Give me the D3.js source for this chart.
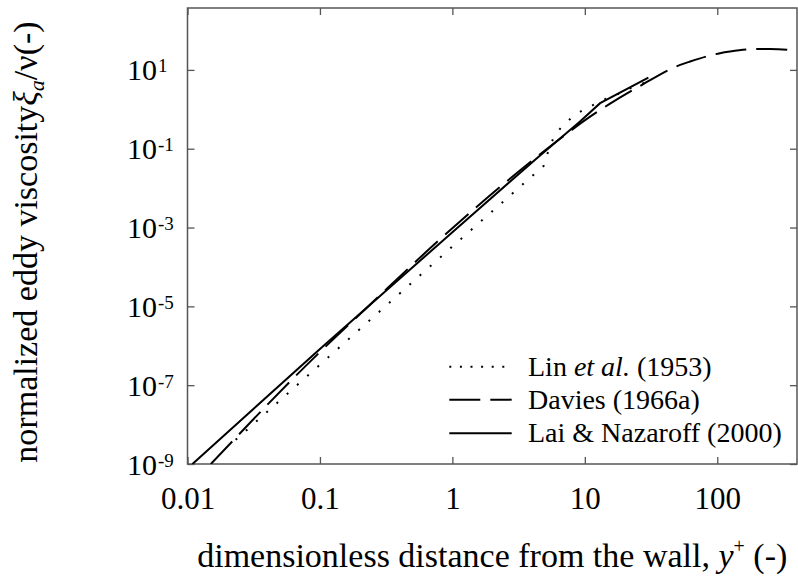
<!DOCTYPE html>
<html>
<head>
<meta charset="utf-8">
<script src="https://cdn.jsdelivr.net/npm/d3@7"></script>
<style>
  body { margin: 0; background: #fff; }
  svg { display: block; }
</style>
</head>
<body>
<script>
const width = 798;
const height = 584;
const serif = "Liberation Serif";

// Lin et al. (1953), dotted
const linX = [0.0231, 0.1, 1, 4.9, 5.16, 5.86, 6.7, 8.0, 9.55, 11.5, 13.7, 16.4, 24, 29];
const linY = [4.1e-9, 3.3e-7, 3.3e-4, 0.037, 0.067, 0.21, 0.36, 0.63, 0.93, 1.27, 1.73, 2.15, 3.9, 4.85];

// Davies (1966a), dashed
const daviesX = [0.015, 0.0946, 0.231, 0.783, 3.15, 6.32, 10.96, 15.4, 26.2, 52.5, 62.4, 105, 125, 211, 251, 408];
const daviesY = [1e-9, 5.8e-7, 9.9e-6, 4.6e-4, 0.026, 0.167, 0.65, 1.37, 3.93, 13.4, 16.3, 26.5, 29.1, 34.1, 34.1, 30.9];

// Lai & Nazaroff (2000), solid
const laiX = [0.0109, 0.1, 1, 4.3, 9.2, 13.05, 30.2];
const laiY = [1e-9, 8.3e-7, 7.6e-4, 0.056, 0.49, 1.43, 6.4];

const xTicks = [0.01, 0.1, 1, 10, 100];
const xTickLabels = ["0.01", "0.1", "1", "10", "100"];
const yTickExps = [-9, -7, -5, -3, -1, 1];
const legendLabels = ["Lin", "Davies (1966a)", "Lai & Nazaroff (2000)"];

const x0 = 187.5, x1 = 797, yTop = 8, yBottom = 464;

const x = d3.scaleLog().domain([0.01, 400]).range([x0, x1]);
const y = d3.scaleLog().domain([1e-9, 372]).range([yBottom, yTop]);

const svg = d3.select("body")
  .append("svg")
  .attr("width", width)
  .attr("height", height)
  .attr("font-family", serif);

svg.append("defs").append("clipPath")
  .attr("id", "plot-clip")
  .append("rect")
  .attr("x", x0).attr("y", yTop)
  .attr("width", x1 - x0).attr("height", yBottom - yTop);

const axisColor = "#555";

// bottom axis with labels, ticks pointing inward
const xAxis = svg.append("g")
  .attr("transform", `translate(0,${yBottom})`)
  .call(d3.axisBottom(x).tickValues(xTicks).tickSize(-7).tickPadding(23)
    .tickFormat((d, i) => xTickLabels[i]));

// top axis, ticks only
const xAxisTop = svg.append("g")
  .attr("transform", `translate(0,${yTop})`)
  .call(d3.axisTop(x).tickValues(xTicks).tickSize(-7).tickFormat(""));

const yAxis = svg.append("g")
  .attr("transform", `translate(${x0},0)`)
  .call(d3.axisLeft(y).tickValues(yTickExps.map(e => Math.pow(10, e))).tickSize(-7).tickFormat(""));

const yAxisRight = svg.append("g")
  .attr("transform", `translate(${x1},0)`)
  .call(d3.axisRight(y).tickValues(yTickExps.map(e => Math.pow(10, e))).tickSize(-7).tickFormat(""));

[xAxis, xAxisTop, yAxis, yAxisRight].forEach(g => {
  g.attr("font-family", serif);
  g.select(".domain").remove();
  g.selectAll(".tick line").attr("stroke", axisColor).attr("stroke-width", 1.3);
});

xAxis.selectAll(".tick text")
  .attr("font-size", 31)
  .attr("font-family", serif)
  .attr("fill", "#000");

// y tick labels: 10 with superscript exponent
const yLabels = svg.append("g");
yLabels.selectAll("text.base")
  .data(yTickExps)
  .join("text")
  .attr("class", "base")
  .attr("x", 157)
  .attr("y", d => y(Math.pow(10, d)) + 10.5)
  .attr("text-anchor", "end")
  .attr("font-family", serif)
  .attr("font-size", 30)
  .text("10");
yLabels.selectAll("text.exp")
  .data(yTickExps)
  .join("text")
  .attr("class", "exp")
  .attr("x", 158)
  .attr("y", d => y(Math.pow(10, d)) + 2.5)
  .attr("font-family", serif)
  .attr("font-size", 19)
  .text(d => String(d));

// frame
svg.append("rect")
  .attr("x", x0).attr("y", yTop)
  .attr("width", x1 - x0).attr("height", yBottom - yTop)
  .attr("fill", "none")
  .attr("stroke", axisColor)
  .attr("stroke-width", 1.5);

const plot = svg.append("g").attr("clip-path", "url(#plot-clip)");

const lineLinear = d3.line().x(d => x(d[0])).y(d => y(d[1]));
const lineSmooth = d3.line().x(d => x(d[0])).y(d => y(d[1])).curve(d3.curveMonotoneX);

plot.append("path")
  .datum(linX.map((v, i) => [v, linY[i]]))
  .attr("fill", "none")
  .attr("stroke", "#000")
  .attr("stroke-width", 2)
  .attr("stroke-dasharray", "2,11.7")
  .attr("d", lineLinear);

plot.append("path")
  .datum(daviesX.map((v, i) => [v, daviesY[i]]))
  .attr("fill", "none")
  .attr("stroke", "#000")
  .attr("stroke-width", 2)
  .attr("stroke-dasharray", "31,10")
  .attr("d", lineSmooth);

plot.append("path")
  .datum(laiX.map((v, i) => [v, laiY[i]]))
  .attr("fill", "none")
  .attr("stroke", "#000")
  .attr("stroke-width", 2)
  .attr("d", lineLinear);

// legend
const legendRows = [366.7, 399.7, 433.3];
const legendDash = ["2,8.6", "31,10", null];
const legend = svg.append("g");
legendRows.forEach((ly, i) => {
  legend.append("line")
    .attr("x1", 449.3).attr("x2", 511.7)
    .attr("y1", ly).attr("y2", ly)
    .attr("stroke", "#000")
    .attr("stroke-width", 2)
    .attr("stroke-dasharray", legendDash[i]);
  const t = legend.append("text")
    .attr("x", 528)
    .attr("y", ly + 9)
    .attr("font-family", serif)
    .attr("font-size", 28);
  if (i === 0) {
    t.append("tspan").text("Lin ");
    t.append("tspan").attr("font-style", "italic").text("et al.");
    t.append("tspan").text(" (1953)");
  } else {
    t.text(legendLabels[i]);
  }
});

// x axis title
const xt = svg.append("text")
  .attr("x", (x0 + x1) / 2)
  .attr("y", 567)
  .attr("text-anchor", "middle")
  .attr("font-family", serif)
  .attr("font-size", 34);
xt.append("tspan").text("dimensionless distance from the wall, ");
xt.append("tspan").attr("font-style", "italic").text("y");
xt.append("tspan").attr("font-size", 20).attr("dy", -14).text("+");
xt.append("tspan").attr("dy", 14).text(" (-)");

// y axis title
const yt = svg.append("text")
  .attr("transform", "translate(37,242) rotate(-90)")
  .attr("text-anchor", "middle")
  .attr("font-family", serif)
  .attr("font-size", 34);
yt.append("tspan").text("normalized eddy viscosity");
yt.append("tspan").attr("font-style", "italic").text("ξ");
yt.append("tspan").attr("font-style", "italic").attr("font-size", 22).attr("dy", 7).text("a");
yt.append("tspan").attr("dy", -7).text("/ν(-)");
</script>
</body>
</html>
